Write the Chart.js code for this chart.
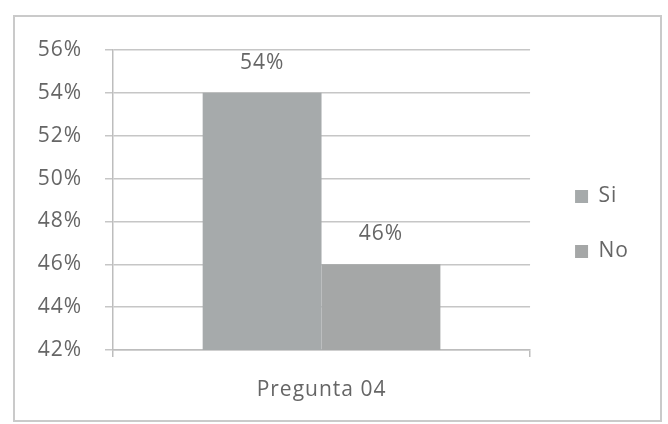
<!DOCTYPE html>
<html>
<head>
<meta charset="utf-8">
<script src="https://cdn.jsdelivr.net/npm/chart.js@4/dist/chart.umd.min.js"></script>
<style>
  html, body { margin: 0; padding: 0; background: #fff; }
  #wrap { position: absolute; left: 0; top: 0; width: 668px; height: 424px; }
  #frame { position: absolute; left: 13px; top: 15px; width: 645px; height: 403px;
           border: 2px solid #cacaca; pointer-events: none; }
</style>
</head>
<body>
<div id="wrap"><canvas id="chart" width="668" height="424"></canvas></div>
<div id="frame"></div>
<script>
// ---- datos ----
const categorias = ['Pregunta 04'];
const series = ['Si', 'No'];
const valoresSi = [54];
const valoresNo = [46];
const ejeMin = 42, ejeMax = 56, ejePaso = 2;

const colores = { Si: '#a6aaab', No: '#a5a7a7' };
const gris = '#666666';
const fuente = { family: "'Open Sans', sans-serif", size: 21 };

// espaciado de letras (el original es bastante ancho)
const espaciado = {
  id: 'espaciado',
  beforeUpdate(chart) { chart.ctx.letterSpacing = '1px'; },
  beforeDraw(chart) { chart.ctx.letterSpacing = '1px'; },
  afterLayout(chart) {
    // la leyenda queda algo separada del área del gráfico y un poco más arriba
    chart.legend.left += 11;
    chart.legend.right += 11;
    chart.legend.top -= 5;
    chart.legend.bottom -= 5;
  }
};

// etiquetas de valor encima de cada barra
const etiquetas = {
  id: 'etiquetas',
  afterDatasetsDraw(chart) {
    const ctx = chart.ctx;
    ctx.save();
    ctx.font = "21px 'Open Sans', sans-serif";
    ctx.fillStyle = gris;
    ctx.textAlign = 'center';
    ctx.textBaseline = 'middle';
    chart.data.datasets.forEach((ds, i) => {
      chart.getDatasetMeta(i).data.forEach((bar, j) => {
        ctx.fillText(ds.data[j] + '%', bar.x, bar.y - 30);
      });
    });
    ctx.restore();
  }
};

new Chart(document.getElementById('chart'), {
  type: 'bar',
  data: {
    labels: categorias,
    datasets: [
      { label: series[0], data: valoresSi, backgroundColor: colores.Si },
      { label: series[1], data: valoresNo, backgroundColor: colores.No }
    ]
  },
  plugins: [espaciado, etiquetas],
  options: {
    responsive: false,
    animation: false,
    devicePixelRatio: 1,
    categoryPercentage: 0.57,
    barPercentage: 1,
    layout: { padding: { top: 50, left: 34, bottom: 16, right: 40 } },
    plugins: {
      tooltip: { enabled: false },
      legend: {
        position: 'right',
        labels: {
          boxWidth: 13, boxHeight: 13, padding: 34,
          color: gris, font: fuente
        }
      }
    },
    scales: {
      x: {
        afterFit(s) { s.height = 58; },
        grid: { drawOnChartArea: false, color: '#bdbdbd', lineWidth: 1.5, tickLength: 7 },
        border: { color: '#bdbdbd', width: 1.5 },
        ticks: { color: gris, font: fuente, padding: 20 }
      },
      y: {
        min: ejeMin, max: ejeMax,
        afterFit(s) { s.width = 79; },
        grid: { color: '#c6c6c6', lineWidth: 1.5, tickLength: 8 },
        border: { color: '#bdbdbd', width: 1.5 },
        ticks: { stepSize: ejePaso, color: gris, font: fuente, padding: 23,
                 callback: v => v + '%' }
      }
    }
  }
});
</script>
</body>
</html>
